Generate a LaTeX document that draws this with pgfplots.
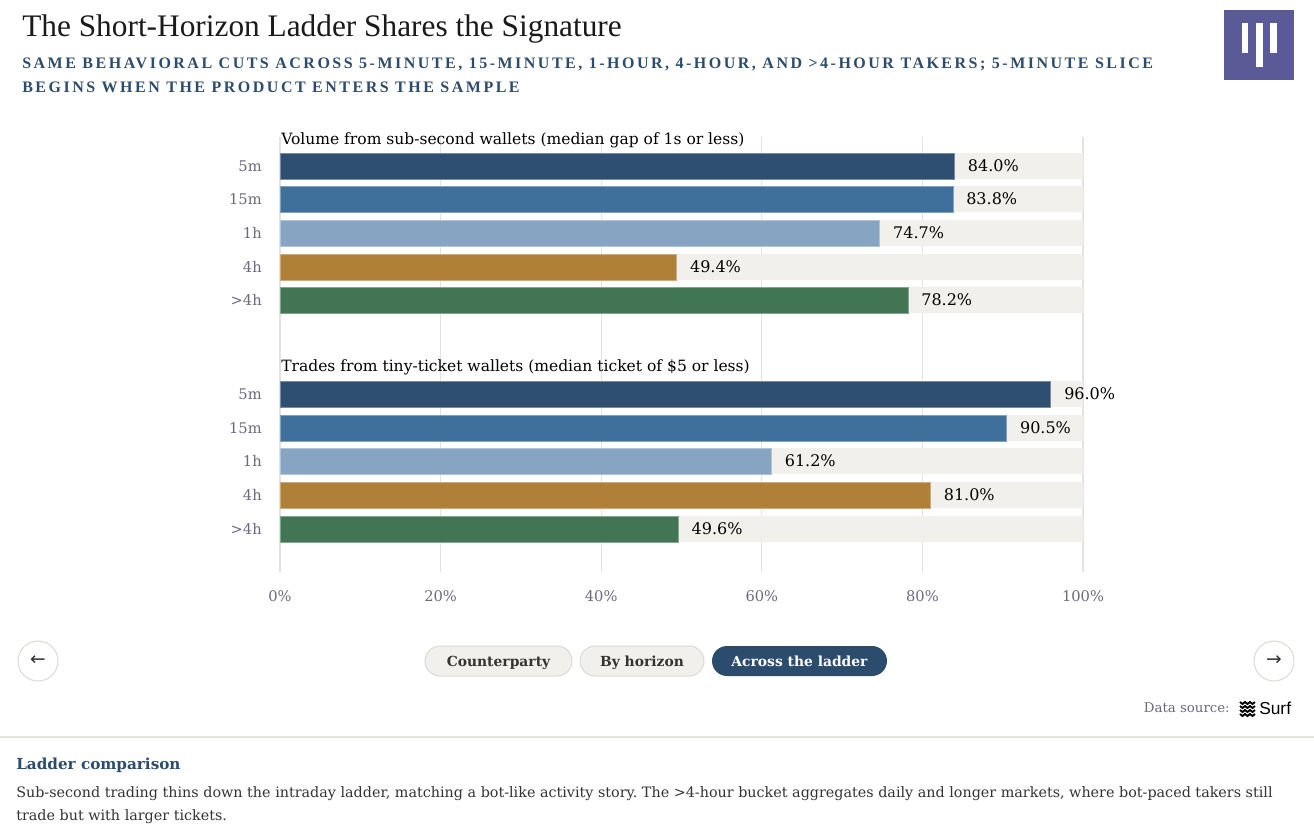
\documentclass[border=0pt]{standalone}
\usepackage{fontspec}
\setmainfont{Liberation Serif}
\newfontfamily\dvs{DejaVu Serif}
\newfontfamily\lsans{Liberation Sans}
\newfontfamily\dsans{DejaVu Sans}
\usepackage{pgfplots}
\pgfplotsset{compat=1.18}
\frenchspacing
\definecolor{c5m}{HTML}{2E4E72}
\definecolor{c15m}{HTML}{3F6F9B}
\definecolor{c1h}{HTML}{87A5C3}
\definecolor{c4h}{HTML}{B08038}
\definecolor{cgt}{HTML}{427553}
\definecolor{bgbar}{HTML}{F2F0EC}
\definecolor{gridc}{HTML}{E5E3DD}
\definecolor{navy}{HTML}{2C4C6E}
\definecolor{lbl}{HTML}{6C6980}
\definecolor{logoc}{HTML}{5A5A98}
\definecolor{pillb}{HTML}{DCDAD4}
\definecolor{bodyc}{HTML}{333333}
\definecolor{titlec}{HTML}{1A1A1A}
\pgfplotsset{mybar/.style={xbar, bar width=19.5pt, bar shift=0pt, draw=#1!65!white, line width=0.6pt, fill=#1},
  mylab/.style={point meta=x, nodes near coords={\pgfmathprintnumber[fixed,fixed zerofill,precision=1]{\pgfplotspointmeta}\%},
  every node near coord/.append style={font=\dvs\fontsize{12}{14}\selectfont, text=black, anchor=west, inner sep=0pt, xshift=9.75pt}}}
\begin{document}
\begin{tikzpicture}
\useasboundingbox (0pt,0pt) rectangle (985.5pt,-624pt);
\fill[white] (0pt,0pt) rectangle (985.5pt,-624pt);
\begin{axis}[at={(210pt,-429pt)}, anchor=south west, scale only axis,
  width=602.25pt, height=326.25pt,
  xmin=0, xmax=100, ymin=137, ymax=572, y dir=reverse,
  /pgf/number format/assume math mode=true,
  axis line style={draw=none}, tick style={draw=none},
  xmajorgrids, grid style={gridc, line width=0.9pt},
  xtick={0,20,40,60,80,100},
  xticklabel={\pgfmathprintnumber{\tick}\%},
  xticklabel style={font=\dvs\fontsize{11}{13}\selectfont, text=lbl, anchor=north, inner sep=0pt, yshift=-13.5pt},
  ytick={166,199,233,267,300,394,428,461,495,529},
  yticklabels={5m,15m,1h,4h,>4h,5m,15m,1h,4h,>4h},
  yticklabel style={font=\dvs\fontsize{11}{13}\selectfont, text=lbl, anchor=east, inner sep=0pt, xshift=-13.5pt},
  clip=false]
\addplot[xbar, bar width=19.5pt, bar shift=0pt, draw=none, fill=bgbar] coordinates {(100,166) (100,199) (100,233) (100,267) (100,300) (100,394) (100,428) (100,461) (100,495) (100,529)};
\addplot[mybar=c5m, mylab] coordinates {(84.0,166) (96.0,394)};
\addplot[mybar=c15m, mylab] coordinates {(83.8,199) (90.5,428)};
\addplot[mybar=c1h, mylab] coordinates {(74.7,233) (61.2,461)};
\addplot[mybar=c4h, mylab] coordinates {(49.4,267) (81.0,495)};
\addplot[mybar=cgt, mylab] coordinates {(78.2,300) (49.6,529)};
\end{axis}
\begin{scope}[x=0.75pt, y=-0.75pt]
% titles
\node[anchor=base west, inner sep=0pt, text=titlec] at (22,36) {\fontsize{23.5}{27}\selectfont The Short-Horizon Ladder Shares the Signature};
\node[anchor=base west, inner sep=0pt, text=navy] at (22,68) {\fontsize{12}{14}\selectfont\bfseries\addfontfeature{LetterSpace=15.6}SAME BEHAVIORAL CUTS ACROSS 5-MINUTE, 15-MINUTE, 1-HOUR, 4-HOUR, AND >4-HOUR TAKERS; 5-MINUTE SLICE};
\node[anchor=base west, inner sep=0pt, text=navy] at (22,92) {\fontsize{12}{14}\selectfont\bfseries\addfontfeature{LetterSpace=15.6}BEGINS WHEN THE PRODUCT ENTERS THE SAMPLE};
% logo
\fill[logoc] (1224,10) rectangle (1294,80);
\fill[white] (1241.5,23) rectangle (1248,53);
\fill[white] (1256,23) rectangle (1262.5,67);
\fill[white] (1270,23) rectangle (1276.5,53);
% group titles
\node[anchor=base west, inner sep=0pt] at (281,144) {\dvs\fontsize{11.65}{14}\selectfont Volume from sub-second wallets (median gap of 1s or less)};
\node[anchor=base west, inner sep=0pt] at (281,371) {\dvs\fontsize{11.65}{14}\selectfont Trades from tiny-ticket wallets (median ticket of \$5 or less)};
% nav
\draw[pillb, line width=0.75pt, fill=white] (38,661) circle (20);
\draw[pillb, line width=0.75pt, fill=white] (1274,661) circle (20);
\node[text=bodyc] at (38,661) {\dsans\fontsize{14}{16}\selectfont ←};
\node[text=bodyc] at (1274,661) {\dsans\fontsize{14}{16}\selectfont →};
\draw[pillb, line width=0.75pt, fill=bgbar, rounded corners=11.25pt] (425,646) rectangle (572,676);
\draw[pillb, line width=0.75pt, fill=bgbar, rounded corners=11.25pt] (580,646) rectangle (704,676);
\fill[navy, rounded corners=11.25pt] (712,646) rectangle (887,676);
\node[text=bodyc, anchor=base] at (498.5,666) {\dvs\fontsize{10.4}{13}\selectfont\bfseries Counterparty};
\node[text=bodyc, anchor=base] at (642,666) {\dvs\fontsize{10.4}{13}\selectfont\bfseries By horizon};
\node[text=white, anchor=base] at (799.5,666) {\dvs\fontsize{10.4}{13}\selectfont\bfseries Across the ladder};
% data source
\node[anchor=base east, inner sep=0pt, text=lbl] at (1230,712) {\dvs\fontsize{10}{12}\selectfont Data source:};
\foreach \yy in {702,706,710,714}{
  \draw[black, line width=1.4pt] (1240,\yy) -- (1242.5,\yy+2) -- (1245,\yy) -- (1247.5,\yy+2) -- (1250,\yy) -- (1252.5,\yy+2) -- (1255,\yy);
}
\node[anchor=base west, inner sep=0pt] at (1259,714) {\lsans\fontsize{13}{15}\selectfont Surf};
% footer
\draw[gridc, line width=0.9pt] (0,737) -- (1314,737);
\node[anchor=base west, inner sep=0pt, text=navy] at (16,769) {\dvs\fontsize{11.4}{15}\selectfont\bfseries Ladder comparison};
\node[anchor=base west, inner sep=0pt, text=bodyc] at (16,797) {\dvs\fontsize{10.75}{15}\selectfont Sub-second trading thins down the intraday ladder, matching a bot-like activity story. The >4-hour bucket aggregates daily and longer markets, where bot-paced takers still};
\node[anchor=base west, inner sep=0pt, text=bodyc] at (16,820) {\dvs\fontsize{10.75}{15}\selectfont trade but with larger tickets.};
\end{scope}
\end{tikzpicture}
\end{document}
